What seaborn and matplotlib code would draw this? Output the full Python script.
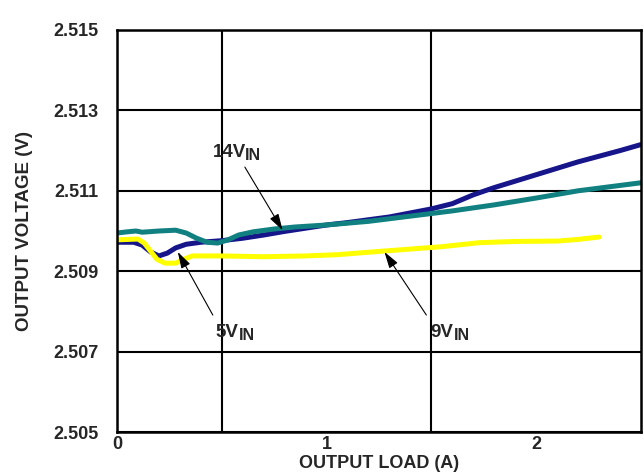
import matplotlib
matplotlib.use("Agg")
import matplotlib.pyplot as plt
import seaborn as sns

# traced curves, output load (A) vs output voltage (V)
load_5v = [0.0, 0.08, 0.12, 0.16, 0.2, 0.24, 0.28, 0.33, 0.4, 0.5, 0.6, 0.7, 0.8, 0.9,
           1.0, 1.1, 1.2, 1.3, 1.4, 1.5, 1.6, 1.7, 1.8, 1.9, 2.0, 2.1, 2.2, 2.3, 2.4, 2.5]
vout_5v = [2.50972, 2.50972, 2.50965, 2.50948, 2.50938, 2.50945, 2.50958, 2.50967,
           2.50972, 2.50976, 2.50982, 2.50990, 2.50999, 2.51007, 2.51015, 2.51021,
           2.51028, 2.51035, 2.51045, 2.51055, 2.51068, 2.51090, 2.51108, 2.51124,
           2.51140, 2.51156, 2.51172, 2.51186, 2.51200, 2.51215]

load_14v = [0.0, 0.05, 0.09, 0.12, 0.2, 0.28, 0.33, 0.38, 0.43, 0.48, 0.53, 0.58, 0.65,
            0.75, 0.85, 1.0, 1.2, 1.4, 1.6, 1.8, 2.0, 2.2, 2.35, 2.5]
vout_14v = [2.50995, 2.50998, 2.51000, 2.50997, 2.51000, 2.51002, 2.50995, 2.50982,
            2.50972, 2.50970, 2.50978, 2.50990, 2.50998, 2.51005, 2.51010, 2.51015,
            2.51024, 2.51037, 2.51050, 2.51065, 2.51082, 2.51100, 2.51110, 2.51120]

load_9v = [0.0, 0.1, 0.13, 0.16, 0.19, 0.23, 0.28, 0.32, 0.36, 0.5, 0.7, 0.9, 1.05,
           1.27, 1.4, 1.55, 1.73, 1.9, 2.1, 2.2, 2.3]
vout_9v = [2.50978, 2.50980, 2.50970, 2.50950, 2.50930, 2.50920, 2.50920, 2.50930,
           2.50938, 2.50938, 2.50936, 2.50938, 2.50941, 2.50950, 2.50955, 2.50961,
           2.50971, 2.50974, 2.50975, 2.50979, 2.50985]

xticks = [0, 1, 2]
yticks = [2.505, 2.507, 2.509, 2.511, 2.513, 2.515]
ytick_labels = ["2.505", "2.507", "2.509", "2.511", "2.513", "2.515"]

sns.set_style("white")
plt.rcParams['font.family'] = ['Liberation Sans', 'DejaVu Sans']
plt.rcParams['font.weight'] = 'bold'

fig = plt.figure(figsize=(6.44, 4.76), dpi=100)
ax = fig.add_axes([0.1817, 0.0924, 0.8136, 0.8446])

lw = 3.6
sns.lineplot(x=load_5v, y=vout_5v, ax=ax, color="#16168a", lw=lw)
sns.lineplot(x=load_14v, y=vout_14v, ax=ax, color="#118080", lw=lw)
sns.lineplot(x=load_9v, y=vout_9v, ax=ax, color="#ffff00", lw=lw)

ax.set_xlim(0, 2.5)
ax.set_ylim(2.505, 2.515)
ax.set_xticks(xticks)
ax.set_xticklabels([str(t) for t in xticks])
ax.set_yticks(yticks)
ax.set_yticklabels(ytick_labels)
ax.set_xticks([0.5, 1, 1.5, 2], minor=True)
ax.tick_params(axis='both', which='both', length=0, labelsize=13)
ax.tick_params(axis='x', pad=3)
ax.tick_params(axis='y', pad=13)
ax.grid(False)
ax.grid(True, which='minor', axis='x', color='black', lw=1.5)
ax.grid(True, which='major', axis='y', color='black', lw=1.5)
for s in ax.spines.values():
    s.set_color('black')
    s.set_linewidth(1.8)

ax.set_xlabel("OUTPUT LOAD (A)", fontsize=13, fontweight='bold', labelpad=1)
ax.set_ylabel("OUTPUT VOLTAGE (V)", fontsize=13.5, fontweight='bold', labelpad=15)

arrow = dict(arrowstyle='-|>,head_length=1.0,head_width=0.3', color='black',
             lw=0.8, shrinkA=0, shrinkB=0)
ax.annotate('', xy=(0.79, 2.51002), xytext=(0.61, 2.51159), arrowprops=arrow)
ax.annotate('', xy=(0.29, 2.50948), xytext=(0.457, 2.50791), arrowprops=arrow)
ax.annotate('', xy=(1.276, 2.50948), xytext=(1.476, 2.50791), arrowprops=arrow)

# series labels: main text plus subscript
labels = [("14V", 0.455, 2.51184, 0.612, 2.51177),
          ("5V", 0.470, 2.50736, 0.580, 2.50729),
          ("9V", 1.495, 2.50736, 1.605, 2.50729)]
for txt, x, y, xs, ys in labels:
    ax.text(x, y, txt, fontsize=13.5, fontweight='bold', ha='left', va='baseline')
    ax.text(xs, ys, "IN", fontsize=11.5, fontweight='bold', ha='left', va='baseline')

fig.savefig("out.png", dpi=100)
